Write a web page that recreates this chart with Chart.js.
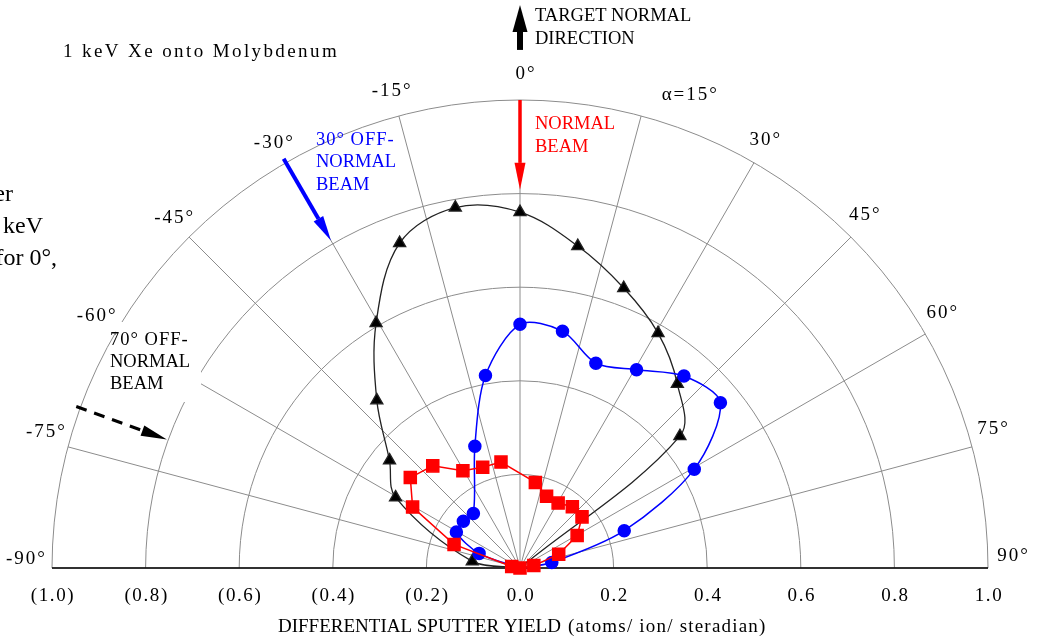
<!DOCTYPE html>
<html>
<head>
<meta charset="utf-8">
<script src="https://cdn.jsdelivr.net/npm/chart.js@4.4.0/dist/chart.umd.min.js"></script>
<style>
  body { margin: 0; background: #fff; }
</style>
</head>
<body>
<canvas id="myChart" width="1041" height="641"></canvas>
<script>
const angleTicks = [-90, -75, -60, -45, -30, -15, 0, 15, 30, 45, 60, 75, 90]
const angleLabels = ['-90°', '-75°', '-60°', '-45°', '-30°', '-15°', '0°', 'α=15°', '30°', '45°', '60°', '75°', '90°']
const ringValues = [0.2, 0.4, 0.6, 0.8, 1.0]
const yieldTicks = [-1.0, -0.8, -0.6, -0.4, -0.2, 0, 0.2, 0.4, 0.6, 0.8, 1.0]
const yieldLabels = ['(1.0)', '(0.8)', '(0.6)', '(0.4)', '(0.2)', '0.0', '0.2', '0.4', '0.6', '0.8', '1.0']

// normal beam (red squares), no point at 0°
const anglesNormal = [-80, -70, -60, -50, -40, -30, -20, -10, 10, 20, 30, 40, 50, 60, 70, 80, 90]
const yieldNormal = [0.018, 0.150, 0.265, 0.306, 0.290, 0.244, 0.233, 0.234, 0.189, 0.166, 0.163, 0.174, 0.173, 0.141, 0.088, 0.030, 0]

// 30° off-normal beam (blue circles), no point at -30°
const angles30 = [-90, -70, -60, -50, -40, -20, -10, 0, 10, 20, 30, 40, 50, 60, 70, 80, 90]
const yield30 = [0, 0.093, 0.157, 0.158, 0.155, 0.282, 0.425, 0.530, 0.523, 0.474, 0.498, 0.545, 0.559, 0.430, 0.237, 0.069, 0]

// 70° off-normal beam (black triangles), no point at -70°
const angles70 = [-90, -82, -60, -50, -40, -30, -20, -10, 0, 10, 20, 30, 40, 50, 90]
const yield70 = [0, 0.103, 0.307, 0.364, 0.476, 0.615, 0.752, 0.796, 0.774, 0.711, 0.648, 0.590, 0.523, 0.446, 0]

const beamAngles = [0, -30, -70]

const rad = d => d * Math.PI / 180
const toPoints = (angles, vals) => angles.map((a, i) => ({x: vals[i] * Math.sin(rad(a)), y: vals[i] * Math.cos(rad(a))}))
const serif = "'Liberation Serif', 'Times New Roman', serif"

function arrow(ctx, x1, y1, x2, y2, color, w, headL, headW, dash) {
    const ang = Math.atan2(y2 - y1, x2 - x1)
    const bx = x2 - headL * Math.cos(ang), by = y2 - headL * Math.sin(ang)
    ctx.save()
    ctx.strokeStyle = color
    ctx.fillStyle = color
    ctx.lineWidth = w
    ctx.setLineDash(dash || [])
    ctx.beginPath()
    ctx.moveTo(x1, y1)
    ctx.lineTo(bx, by)
    ctx.stroke()
    ctx.setLineDash([])
    ctx.beginPath()
    ctx.moveTo(x2, y2)
    ctx.lineTo(bx + headW / 2 * Math.sin(ang), by - headW / 2 * Math.cos(ang))
    ctx.lineTo(bx - headW / 2 * Math.sin(ang), by + headW / 2 * Math.cos(ang))
    ctx.closePath()
    ctx.fill()
    ctx.restore()
}

function text(ctx, str, x, y, opts) {
    ctx.save()
    ctx.font = (opts.size || 18.5) + 'px ' + serif
    ctx.fillStyle = opts.color || '#000'
    ctx.textAlign = opts.align || 'left'
    ctx.textBaseline = opts.baseline || 'middle'
    ctx.letterSpacing = (opts.spacing || 0) + 'px'
    ctx.fillText(str, x, y)
    ctx.restore()
}

const polarGrid = {
    id: 'polarGrid',
    beforeDatasetsDraw(chart) {
        const {ctx, scales: {x, y}} = chart
        const cx = x.getPixelForValue(0), cy = y.getPixelForValue(0)
        const unit = x.getPixelForValue(1) - cx
        ctx.save()
        ctx.strokeStyle = '#8c8c8c'
        ctx.lineWidth = 1
        ringValues.forEach(v => {
            ctx.beginPath()
            ctx.arc(cx, cy, v * unit, Math.PI, 2 * Math.PI)
            ctx.stroke()
        })
        angleTicks.forEach(a => {
            ctx.beginPath()
            ctx.moveTo(cx, cy)
            ctx.lineTo(cx + unit * Math.sin(rad(a)), cy - unit * Math.cos(rad(a)))
            ctx.stroke()
        })
        // white patch behind the 70° beam label
        ctx.fillStyle = '#fff'
        ctx.fillRect(116, 322, 85, 80)
        ctx.strokeStyle = '#000'
        ctx.lineWidth = 1.5
        ctx.beginPath()
        ctx.moveTo(x.getPixelForValue(-1), cy)
        ctx.lineTo(x.getPixelForValue(1), cy)
        ctx.stroke()
        ctx.restore()
    }
}

const labels = {
    id: 'labels',
    afterDatasetsDraw(chart) {
        const {ctx, scales: {x, y}} = chart
        const cx = x.getPixelForValue(0), cy = y.getPixelForValue(0)
        const unit = x.getPixelForValue(1) - cx
        const P = (a, r) => [cx + unit * r * Math.sin(rad(a)), cy - unit * r * Math.cos(rad(a))]

        // angle labels round the outer ring
        angleTicks.forEach((a, i) => {
            const shift = Math.min(1.4, Math.max(0, (Math.abs(a) - 25) / 45 * 1.4))
            let p = P(a - Math.sign(a) * shift, 1.055)
            if (angleLabels[i].startsWith('α')) p = P(19.8, 1.074)
            if (a === 0) p[0] += 6
            if (a < -15) p[1] += 3
            text(ctx, angleLabels[i], p[0], p[1], {align: 'center', spacing: 2, size: 19})
        })
        // yield ticks under the baseline
        yieldTicks.forEach((v, i) => {
            text(ctx, yieldLabels[i], x.getPixelForValue(v) + 1, cy + 28, {align: 'center', spacing: 1.6, size: 19})
        })
        text(ctx, 'DIFFERENTIAL SPUTTER YIELD', 278, cy + 59, {size: 19})
        text(ctx, '(atoms/ ion/ steradian)', 568, cy + 59, {size: 19, spacing: 1.2})

        // beam arrows
        let a = P(beamAngles[0], 1.0), b = P(beamAngles[0], 0.808)
        arrow(ctx, a[0], a[1], b[0], b[1], '#ff0000', 3.5, 27, 11)
        a = P(beamAngles[1], 1.01); b = P(beamAngles[1], 0.808)
        arrow(ctx, a[0], a[1], b[0], b[1], '#0000ff', 4, 25, 11)
        a = P(beamAngles[2], 1.009); b = P(beamAngles[2], 0.803)
        arrow(ctx, a[0], a[1], b[0], b[1], '#000', 3, 26, 11, [11, 8])
        a = P(0, 1.107); b = P(0, 1.203)
        arrow(ctx, a[0], a[1], b[0], b[1], '#000', 6, 27, 15)

        text(ctx, '1 keV Xe onto Molybdenum', 63, 52, {size: 19, spacing: 2.4})
        text(ctx, 'TARGET NORMAL', 535, 16, {})
        text(ctx, 'DIRECTION', 535, 39, {})
        text(ctx, 'NORMAL', 535, 124, {color: '#ff0000'})
        text(ctx, 'BEAM', 535, 147, {color: '#ff0000'})
        text(ctx, '30° OFF-', 316, 140, {color: '#0000ff', spacing: 1})
        text(ctx, 'NORMAL', 316, 162, {color: '#0000ff'})
        text(ctx, 'BEAM', 316, 185, {color: '#0000ff'})
        text(ctx, '70° OFF-', 110, 340, {spacing: 1})
        text(ctx, 'NORMAL', 110, 362, {})
        text(ctx, 'BEAM', 110, 384, {})

        // caption cut off at the left edge
        text(ctx, 'er', 13, 201, {size: 24, align: 'right', baseline: 'alphabetic'})
        text(ctx, 'keV', 43, 233, {size: 24, align: 'right', baseline: 'alphabetic'})
        text(ctx, 'for 0°,', 57, 265, {size: 24, align: 'right', baseline: 'alphabetic'})
    }
}

const edgeless = angles => angles.map(a => Math.abs(a) === 90 ? 0 : 1)

new Chart('myChart', {
    type: 'scatter',
    data: {
        datasets: [{
            data: toPoints(anglesNormal, yieldNormal),
            showLine: true,
            borderColor: '#ff0000',
            backgroundColor: '#ff0000',
            borderWidth: 1.5,
            pointStyle: 'rect',
            pointRadius: 8.5,
            tension: 0,
            clip: false
        }, {
            data: toPoints(angles30, yield30),
            showLine: true,
            borderColor: '#0000ff',
            backgroundColor: '#0000ff',
            borderWidth: 1.5,
            pointStyle: 'circle',
            pointRadius: edgeless(angles30).map(v => v * 6),
            tension: 0.3,
            clip: false
        }, {
            data: toPoints(angles70, yield70),
            showLine: true,
            borderColor: '#222',
            backgroundColor: '#000',
            borderWidth: 1.3,
            pointStyle: 'triangle',
            pointRadius: edgeless(angles70).map(v => v * 7),
            tension: 0.35,
            clip: false
        }]
    },
    options: {
        responsive: false,
        animation: false,
        layout: {padding: {left: 52, right: 53, top: 0, bottom: 73}},
        scales: {
            x: {type: 'linear', min: -1, max: 1, display: false},
            y: {type: 'linear', min: 0, max: 1.2137, display: false}
        },
        plugins: {
            legend: {display: false},
            tooltip: {enabled: false}
        }
    },
    plugins: [polarGrid, labels]
});
</script>
</body>
</html>
